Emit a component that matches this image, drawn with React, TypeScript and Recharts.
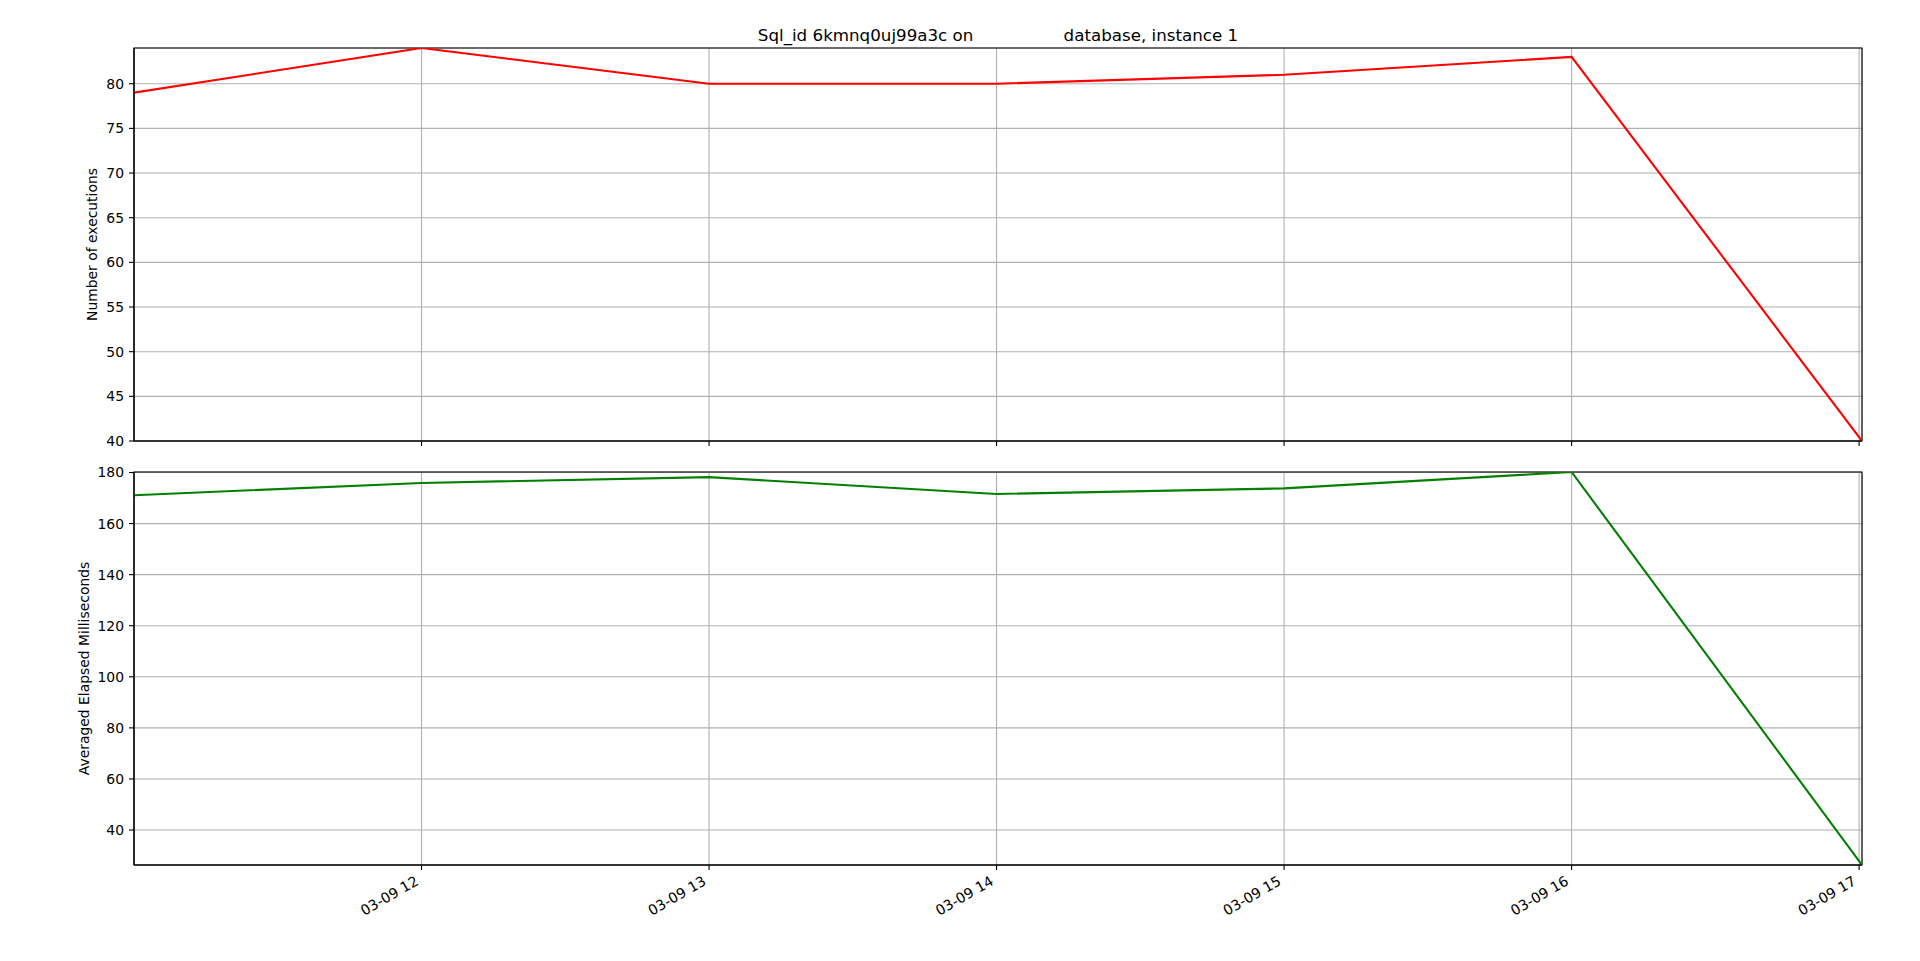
import React from 'react';
import { LineChart, Line, XAxis, YAxis, CartesianGrid, ReferenceArea } from 'recharts';

// snapshot times, as hours of 03-09
const hours = [11, 12, 13, 14, 15, 16, 17.01];
const executions = [79, 84, 80, 80, 81, 83, 40];
const elapsedMs = [171.1, 175.9, 178.2, 171.6, 173.8, 180.2, 26.3];

const hourTicks = [12, 13, 14, 15, 16, 17];
const execTicks = [40, 45, 50, 55, 60, 65, 70, 75, 80];
const elapsedTicks = [40, 60, 80, 100, 120, 140, 160, 180];

const execDomain = [40, 84];
const elapsedDomain = [26.3, 180.2];

const data = hours.map((h, i) => ({ t: h, executions: executions[i], elapsed: elapsedMs[i] }));
const xDomain = [hours[0], hours[hours.length - 1]];

const FONT = 'DejaVu Sans';
const W = 1920;
const H = 961;

const tickStyle = { fontSize: 13.9, fill: '#000', fontFamily: FONT };
const axisStroke = { stroke: '#000', strokeWidth: 1.1 };

const fmtHour = (h: number) => `03-09 ${Math.round(h)}`;

// rotated date labels, right aligned on the tick like autofmt_xdate
const DateTick = (props: any) => {
  const { x, y, payload } = props;
  const ax = x - 2;
  const ay = y + 9;
  return (
    <text
      x={ax}
      y={ay}
      transform={`rotate(-30, ${ax}, ${ay})`}
      textAnchor="end"
      fontSize={14.2}
      fontFamily={FONT}
      fill="#000"
    >
      {fmtHour(payload.value)}
    </text>
  );
};

const NoTick = () => <g />;

const yLabel = (text: string, x: number, fallbackY: number) => (props: any) => {
  const vb = props.viewBox || {};
  const cy = vb.height ? vb.y + vb.height / 2 : fallbackY;
  return (
    <text
      x={x}
      y={cy}
      transform={`rotate(-90, ${x}, ${cy})`}
      textAnchor="middle"
      dominantBaseline="central"
      fontSize={13.9}
      fontFamily={FONT}
      fill="#000"
    >
      {text}
    </text>
  );
};

export default function App() {
  return (
    <div style={{ position: 'absolute', left: 0, top: 0, width: W, height: H, background: '#fff', fontFamily: FONT }}>
      <div
        style={{
          position: 'absolute',
          left: 134,
          width: 1728,
          top: 27,
          textAlign: 'center',
          fontSize: 16.7,
          lineHeight: 1,
          whiteSpace: 'pre',
          color: '#000',
        }}
      >
        {'Sql_id 6kmnq0uj99a3c on                 database, instance 1'}
      </div>

      <div style={{ position: 'absolute', left: 0, top: 0 }}>
        <LineChart width={W} height={H} data={data} margin={{ top: 48, right: 58, left: 74, bottom: 510 }}>
          <CartesianGrid stroke="#b0b0b0" strokeWidth={1.1} />
          <XAxis
            dataKey="t"
            type="number"
            domain={xDomain}
            ticks={hourTicks}
            allowDataOverflow
            height={10}
            tick={NoTick}
            tickSize={5}
            tickLine={axisStroke}
            axisLine={axisStroke}
          />
          <YAxis
            type="number"
            domain={execDomain}
            ticks={execTicks}
            allowDataOverflow
            width={60}
            tick={tickStyle}
            tickSize={5}
            tickMargin={5}
            tickLine={axisStroke}
            axisLine={axisStroke}
            label={{ content: yLabel('Number of executions', 92, 244.5) }}
          />
          <Line
            type="linear"
            dataKey="executions"
            stroke="#ff0000"
            strokeWidth={2.1}
            dot={false}
            activeDot={false}
            isAnimationActive={false}
          />
          <ReferenceArea
            x1={xDomain[0]}
            x2={xDomain[1]}
            y1={execDomain[0]}
            y2={execDomain[1]}
            fill="none"
            stroke="#000"
            strokeWidth={1.1}
            ifOverflow="visible"
          />
        </LineChart>
      </div>

      <div style={{ position: 'absolute', left: 0, top: 0 }}>
        <LineChart width={W} height={H} data={data} margin={{ top: 472, right: 58, left: 74, bottom: 36 }}>
          <CartesianGrid stroke="#b0b0b0" strokeWidth={1.1} />
          <XAxis
            dataKey="t"
            type="number"
            domain={xDomain}
            ticks={hourTicks}
            allowDataOverflow
            height={60}
            tick={DateTick}
            tickSize={5}
            tickMargin={5}
            tickLine={axisStroke}
            axisLine={axisStroke}
          />
          <YAxis
            type="number"
            domain={elapsedDomain}
            ticks={elapsedTicks}
            allowDataOverflow
            width={60}
            tick={tickStyle}
            tickSize={5}
            tickMargin={5}
            tickLine={axisStroke}
            axisLine={axisStroke}
            label={{ content: yLabel('Averaged Elapsed Milliseconds', 83.5, 668.5) }}
          />
          <Line
            type="linear"
            dataKey="elapsed"
            stroke="#008000"
            strokeWidth={2.1}
            dot={false}
            activeDot={false}
            isAnimationActive={false}
          />
          <ReferenceArea
            x1={xDomain[0]}
            x2={xDomain[1]}
            y1={elapsedDomain[0]}
            y2={elapsedDomain[1]}
            fill="none"
            stroke="#000"
            strokeWidth={1.1}
            ifOverflow="visible"
          />
        </LineChart>
      </div>
    </div>
  );
}
